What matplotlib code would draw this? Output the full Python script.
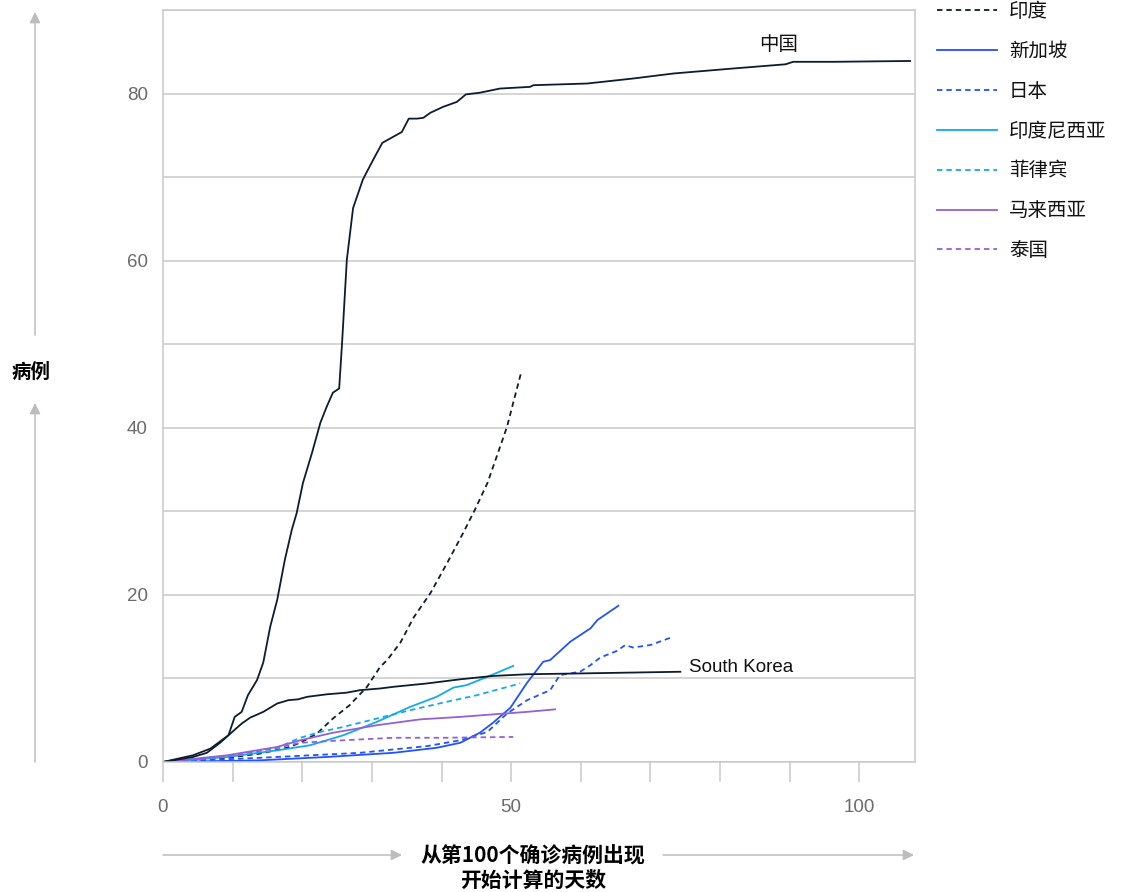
import matplotlib
matplotlib.use('Agg')
import matplotlib.pyplot as plt

plt.rcParams['font.family'] = ['Liberation Sans', 'Noto Sans CJK SC', 'DejaVu Sans']
CJK = ['Noto Sans CJK SC', 'DejaVu Sans']

# ---------------- data (days since 100th case, cases in thousands) ----------------
china_x = [0, 4.3, 6.3, 8.2, 9.4, 10.3, 11.3, 12.2, 13.5, 14.4, 15.4, 16.4, 17.5, 18.5, 19.2,
           20.1, 21.4, 22.6, 23.5, 24.4, 25.3, 25.7, 26.4, 27.3, 28.7, 30.2, 31.5, 34.3, 35.3,
           36.5, 37.4, 38.4, 40.2, 42.2, 43.5, 45.5, 48.4, 52.7, 53.2, 60.9, 67.5, 73.3, 81.9,
           89.4, 90.5, 96.3, 107.3]
china_y = [0, 0.6, 1.1, 2.3, 3.2, 5.4, 6.0, 8.0, 9.8, 11.9, 16.2, 19.4, 24.2, 27.8, 29.8,
           33.4, 37.0, 40.6, 42.5, 44.2, 44.7, 49.9, 60.1, 66.3, 69.7, 72.1, 74.1, 75.4, 77.0,
           77.0, 77.1, 77.7, 78.4, 79.0, 79.9, 80.1, 80.6, 80.8, 81.0, 81.2, 81.8, 82.4, 83.0,
           83.5, 83.8, 83.8, 83.9]

korea_x = [0, 4.3, 6.8, 9.4, 11.3, 12.5, 14.4, 16.4, 18.0, 19.4, 20.7, 23.5, 26.4, 28.3,
           31.2, 33.1, 37.9, 42.7, 47.4, 52.3, 59.9, 74.3]
korea_y = [0, 0.8, 1.6, 3.2, 4.6, 5.3, 6.0, 7.0, 7.4, 7.5, 7.8, 8.1, 8.3, 8.6,
           8.8, 9.0, 9.4, 9.9, 10.3, 10.5, 10.6, 10.8]

india_x = [0, 9.2, 13.9, 17.8, 19.7, 22.1, 24.4, 26.8, 29.3, 31.2, 32.2, 34.1, 36.0, 38.4,
           40.8, 43.1, 44.8, 46.6, 47.9, 49.4, 50.3, 51.4]
india_y = [0, 0.5, 1.0, 1.7, 2.3, 3.4, 5.2, 6.8, 9.0, 11.4, 12.2, 14.3, 17.3, 20.2,
           23.8, 27.4, 30.2, 33.4, 36.5, 40.1, 43.0, 46.5]

singapore_x = [0, 13.9, 23.5, 33.1, 39.3, 42.7, 45.5, 47.4, 49.9, 52.3, 54.6, 55.6, 58.5,
               61.4, 62.4, 65.4]
singapore_y = [0, 0.2, 0.6, 1.1, 1.7, 2.3, 3.5, 4.7, 6.5, 9.5, 12.0, 12.2, 14.4,
               16.0, 17.0, 18.7]

japan_x = [0, 13.9, 28.3, 37.9, 42.7, 46.6, 49.4, 52.3, 55.6, 57.0, 59.9, 61.4, 62.8,
           65.2, 66.4, 67.5, 70.0, 73.3]
japan_y = [0, 0.5, 1.1, 1.9, 2.6, 3.6, 5.8, 7.4, 8.6, 10.4, 10.8, 11.6, 12.5,
           13.3, 14.0, 13.7, 14.0, 15.0]

indonesia_x = [0, 9.2, 16.4, 21.1, 25.9, 30.7, 35.5, 39.3, 41.7, 43.6, 46.6, 50.3]
indonesia_y = [0, 0.6, 1.4, 2.0, 3.2, 4.8, 6.6, 7.8, 8.9, 9.2, 10.2, 11.5]

philippines_x = [0, 9.2, 16.4, 19.7, 22.6, 25.9, 30.7, 35.5, 40.2, 45.1, 51.3]
philippines_y = [0, 0.7, 1.7, 2.9, 3.6, 4.2, 5.2, 6.2, 7.1, 8.0, 9.4]

malaysia_x = [0, 9.2, 16.4, 19.7, 24.4, 30.7, 36.9, 42.7, 47.4, 52.3, 56.3]
malaysia_y = [0, 0.8, 1.8, 2.6, 3.5, 4.4, 5.1, 5.4, 5.7, 6.0, 6.3]

thailand_x = [0, 9.2, 16.4, 19.7, 25.9, 33.1, 40.2, 50.3]
thailand_y = [0, 0.7, 1.7, 2.3, 2.6, 2.9, 2.9, 3.0]

legend_names = ['印度', '新加坡', '日本', '印度尼西亚', '菲律宾', '马来西亚', '泰国']
x_ticks = list(range(0, 101, 10))
x_tick_labels = ['0', '', '', '', '', '50', '', '', '', '', '100']
y_ticks = list(range(0, 91, 10))
y_tick_labels = ['0', '', '20', '', '40', '', '60', '', '80', '']

NAVY = '#0B1D2E'
BLUE = '#2251FF'
CYAN = '#12A9EE'
PURPLE = '#9360D8'
GRID = '#C9C9C9'

W, H = 1126, 892
fig = plt.figure(figsize=(W / 100, H / 100), dpi=100)
ax = fig.add_axes([163 / W, 1 - 762 / H, (915 - 163) / W, (762 - 10) / H])

lw = 1.3
dash = (0, (3, 2.2))
handles = []
handles.append(ax.plot(india_x, india_y, color=NAVY, lw=lw, ls=dash)[0])
handles.append(ax.plot(singapore_x, singapore_y, color=BLUE, lw=lw)[0])
handles.append(ax.plot(japan_x, japan_y, color=BLUE, lw=lw, ls=dash)[0])
handles.append(ax.plot(indonesia_x, indonesia_y, color=CYAN, lw=lw)[0])
handles.append(ax.plot(philippines_x, philippines_y, color=CYAN, lw=lw, ls=dash)[0])
handles.append(ax.plot(malaysia_x, malaysia_y, color=PURPLE, lw=lw)[0])
handles.append(ax.plot(thailand_x, thailand_y, color=PURPLE, lw=lw, ls=dash)[0])
ax.plot(korea_x, korea_y, color=NAVY, lw=lw)
ax.plot(china_x, china_y, color=NAVY, lw=lw)

ax.text(88.4, 85.9, '中国', family=CJK, fontsize=14, color='#111111', ha='center', va='center')
ax.text(75.6, 11.3, 'South Korea', fontsize=13.5, color='#111111', ha='left', va='center')

ax.set_xlim(0, 108)
ax.set_ylim(0, 90)
ax.set_xticks(x_ticks)
ax.set_xticklabels(x_tick_labels)
ax.set_yticks(y_ticks)
ax.set_yticklabels(y_tick_labels)
ax.tick_params(axis='x', length=14.5, width=1.1, color=GRID, pad=12, labelsize=13.5, labelcolor='#6B6B6B')
ax.tick_params(axis='y', length=0, pad=11, labelsize=13.5, labelcolor='#6B6B6B')
ax.grid(axis='y', color=GRID, lw=1.1)
ax.set_axisbelow(True)
for s in ax.spines.values():
    s.set_color(GRID)
    s.set_linewidth(1.1)

leg = fig.legend(handles, legend_names, loc='upper left', bbox_to_anchor=(937 / W, 1 - 1 / H),
                 frameon=False, prop={'family': CJK, 'size': 14}, handlelength=3.1,
                 handletextpad=0.6, labelspacing=0.97, borderpad=0, borderaxespad=0)
for t in leg.get_texts():
    t.set_color('#111111')

# axis labels with arrows
arrow_kw = dict(arrowstyle='-|>', color='#BDBDBD', lw=1.1, mutation_scale=16, shrinkA=0, shrinkB=0)
fig.add_artist(plt.Annotation('', xy=(35, H - 12), xytext=(35, H - 335), xycoords='figure pixels',
                              textcoords='figure pixels', arrowprops=arrow_kw))
fig.add_artist(plt.Annotation('', xy=(35, H - 403), xytext=(35, H - 762), xycoords='figure pixels',
                              textcoords='figure pixels', arrowprops=arrow_kw))
fig.add_artist(plt.Annotation('', xy=(402, H - 855), xytext=(163, H - 855), xycoords='figure pixels',
                              textcoords='figure pixels', arrowprops=arrow_kw))
fig.add_artist(plt.Annotation('', xy=(914, H - 855), xytext=(663, H - 855), xycoords='figure pixels',
                              textcoords='figure pixels', arrowprops=arrow_kw))
fig.text(31 / W, 1 - 372 / H, '病例', family=CJK, fontsize=14, fontweight='bold', ha='center', va='center')
fig.text(533 / W, 1 - 856 / H, '从第100个确诊病例出现', family=CJK, fontsize=15, fontweight='bold',
         ha='center', va='center')
fig.text(533 / W, 1 - 880 / H, '开始计算的天数', family=CJK, fontsize=15, fontweight='bold',
         ha='center', va='center')

fig.savefig('out.png', dpi=100)
